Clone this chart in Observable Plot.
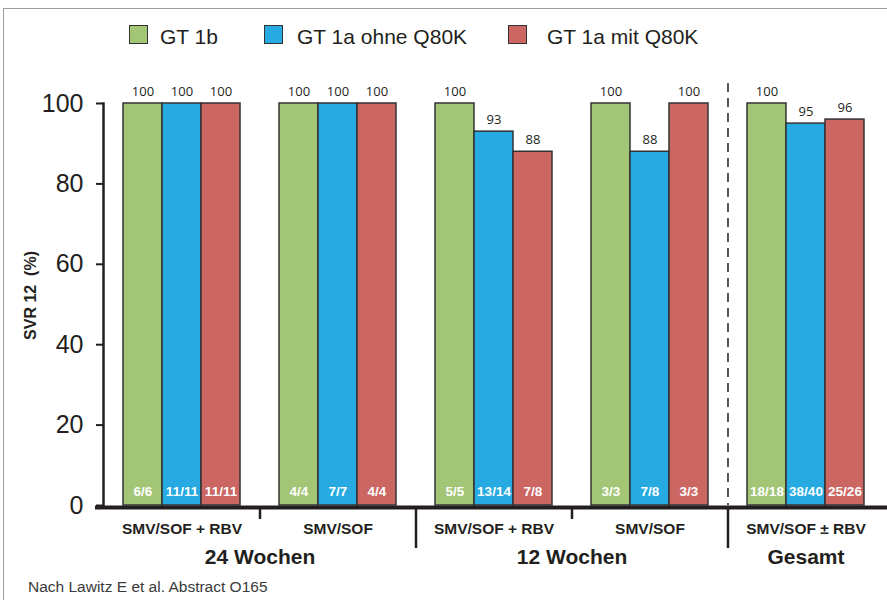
<!DOCTYPE html>
<html><head><meta charset="utf-8">
<script src="https://cdn.jsdelivr.net/npm/d3@7"></script>
<script src="https://cdn.jsdelivr.net/npm/@observablehq/plot@0.6"></script>
<style>
html,body{margin:0;padding:0;background:#fff;}
body{width:887px;height:600px;overflow:hidden;position:relative;font-family:"Liberation Sans",Arial,sans-serif;color:#231f20;}
#border{position:absolute;left:3px;top:8px;width:900px;height:700px;border-left:1.5px solid #9c9c9c;border-top:1.5px solid #9c9c9c;}
.sw{position:absolute;top:25px;width:19px;height:19px;box-sizing:border-box;border:1.5px solid #333;}
.lt{position:absolute;top:25px;font-size:21px;line-height:21px;white-space:nowrap;color:#231f20;}
#chart{position:absolute;left:0;top:60px;}
#caption{position:absolute;left:28px;top:578px;font-size:15.5px;color:#3a3a3a;white-space:nowrap;}
</style></head>
<body>
<div id="border"></div>
<div id="legend"></div>
<div id="chart"></div>
<div id="caption">Nach Lawitz E et al. Abstract O165</div>
<script>
// ---- data ----
const series = ["GT 1b", "GT 1a ohne Q80K", "GT 1a mit Q80K"];
const groupLabels = ["SMV/SOF + RBV", "SMV/SOF", "SMV/SOF + RBV", "SMV/SOF", "SMV/SOF \u00b1 RBV"];
const periods = ["24 Wochen", "24 Wochen", "12 Wochen", "12 Wochen", "Gesamt"];
const gt1b = [100, 100, 100, 100, 100];
const gt1aOhne = [100, 100, 93, 88, 95];
const gt1aMit = [100, 100, 88, 100, 96];
const frac1b = ["6/6", "4/4", "5/5", "3/3", "18/18"];
const frac1aOhne = ["11/11", "7/7", "13/14", "7/8", "38/40"];
const frac1aMit = ["11/11", "4/4", "7/8", "3/3", "25/26"];
const yTicks = [0, 20, 40, 60, 80, 100];
const yLabel = "SVR 12 \u00a0(%)";

// ---- styles / layout ----
const colors = ["#a3c676", "#27aae1", "#cc6662"];
const legendSwatchX = [129, 264, 508];
const legendTextX = [160, 297, 547];
const ink = "#231f20";

// legend
const legend = document.getElementById("legend");
series.forEach((s, j) => {
  const sw = document.createElement("div");
  sw.className = "sw"; sw.style.left = legendSwatchX[j] + "px"; sw.style.background = colors[j];
  const t = document.createElement("div");
  t.className = "lt"; t.style.left = legendTextX[j] + "px"; t.style.top = "25.5px"; t.textContent = s;
  legend.appendChild(sw); legend.appendChild(t);
});

const values = [gt1b, gt1aOhne, gt1aMit];
const fracs = [frac1b, frac1aOhne, frac1aMit];
const data = [];
const domain = [];
groupLabels.forEach((g, i) => {
  series.forEach((s, j) => {
    const key = `g${i}s${j}`;
    domain.push(key);
    data.push({key, series: s, value: values[j][i], frac: fracs[j][i]});
  });
  if (i < groupLabels.length - 1) domain.push(`gap${i}`);
});
const groupLabelData = groupLabels.map((label, i) => ({key: `g${i}s1`, label}));
const periodData = [];
[...new Set(periods)].forEach(p => {
  const idx = periods.map((q, i) => q === p ? i : -1).filter(i => i >= 0);
  periodData.push({label: p, key: idx.length > 1 ? `gap${idx[0]}` : `g${idx[0]}s1`});
});
const shortGaps = [], longGaps = [], dashGaps = [];
for (let i = 0; i < periods.length - 1; i++) {
  if (periods[i] === periods[i + 1]) shortGaps.push(`gap${i}`);
  else longGaps.push(`gap${i}`);
  if (periods[i + 1] === "Gesamt" && periods[i] !== "Gesamt") dashGaps.push(`gap${i}`);
}

const W = 887, H = 515, mt = 43, mb = 70, ml = 103, mr = 3;
const plotH = H - mt - mb;

const chart = Plot.plot({
  width: W, height: H,
  marginTop: mt, marginBottom: mb, marginLeft: ml, marginRight: mr,
  style: {fontFamily: '"Liberation Sans", Arial, sans-serif', color: ink, background: "transparent", overflow: "visible"},
  x: {type: "band", domain, paddingInner: 0, paddingOuter: 0.513, round: false, axis: null},
  y: {domain: [0, 100], axis: null},
  color: {domain: series, range: colors},
  marks: [
    Plot.ruleX(dashGaps, {x: d => d, insetTop: -20, stroke: ink, strokeWidth: 1.5, strokeDasharray: "9,6"}),
    Plot.barY(data, {x: "key", y: "value", fill: "series", stroke: "#333", strokeWidth: 1.5}),
    Plot.text(data, {x: "key", y: "value", text: d => String(d.value), lineAnchor: "bottom", dy: -8, fontSize: 13, fontFamily: '"Open Sans", sans-serif', fill: ink}),
    Plot.text(data, {x: "key", y: 0, text: "frac", lineAnchor: "bottom", dy: -10, fill: "white", fontWeight: "bold", fontSize: 13.5}),
    Plot.axisY({ticks: yTicks, tickSize: 7, tickPadding: 13, strokeWidth: 2, fontSize: 25, label: null, stroke: ink, fill: ink}),
    Plot.frame({anchor: "left", stroke: ink, strokeWidth: 2.5}),
    Plot.ruleY([0], {dy: 2, stroke: ink, strokeWidth: 4, insetLeft: -8, insetRight: -3}),
    Plot.ruleX(shortGaps, {x: d => d, insetTop: plotH + 2, insetBottom: -14, stroke: ink, strokeWidth: 2.5}),
    Plot.ruleX(longGaps, {x: d => d, insetTop: plotH + 2, insetBottom: -43, stroke: ink, strokeWidth: 2.5}),
    Plot.text(groupLabelData, {x: "key", y: 0, text: "label", lineAnchor: "bottom", dy: 28, fontWeight: "bold", fontSize: 15.5, fill: ink}),
    Plot.text(periodData, {x: "key", y: 0, text: "label", lineAnchor: "bottom", dy: 58, fontWeight: "bold", fontSize: 21, fill: ink}),
    Plot.text([yLabel], {frameAnchor: "left", textAnchor: "middle", text: d => d, rotate: -90, dx: -73, dy: -9, fontWeight: "bold", fontSize: 16, fill: ink})
  ]
});
document.getElementById("chart").appendChild(chart);
</script>
</body></html>
